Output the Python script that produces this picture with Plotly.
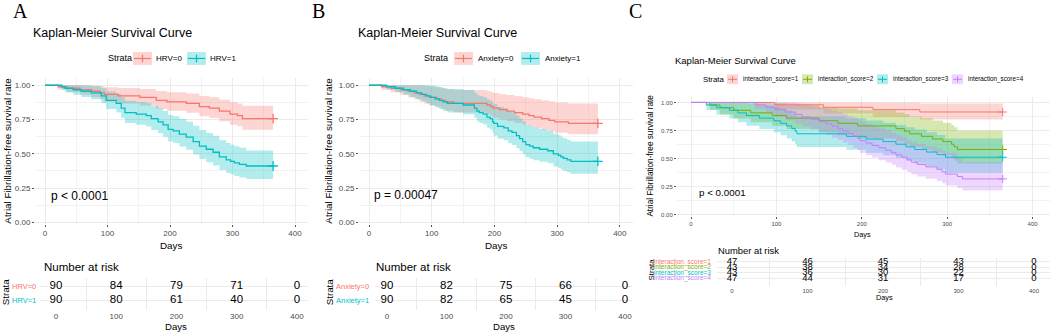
import plotly.graph_objects as go

W, H = 1052, 336
FONT = "Liberation Sans, Arial, sans-serif"
SERIF = "Liberation Serif, Times New Roman, serif"

RED, CYAN, GREEN, PURPLE = "#F8766D", "#00BFC4", "#7CAE00", "#C77CFF"

# ---------------- data: panel A (HRV) ----------------
A0_t = [0, 21, 35, 56, 74, 88, 95, 117, 152, 178, 195, 226, 247, 263, 279, 296, 308, 316, 365]
A0_s = [1, .989, .978, .967, .956, .944, .933, .922, .911, .889, .878, .867, .844, .833, .811, .789, .778, .756, .756]
A0_hi = [1, 1, 1, 1, .999, .993, .986, .980, .973, .958, .949, .940, .922, .913, .895, .877, .867, .850, .850]
A0_lo = [1, .967, .948, .931, .915, .898, .882, .867, .853, .827, .813, .800, .774, .761, .737, .712, .700, .675, .675]

A1_t = [0, 27, 32, 45, 58, 74, 90, 98, 114, 122, 128, 146, 162, 170, 181, 189, 197, 205, 215, 226, 237, 247, 258, 269, 279, 290, 297, 303, 311, 322, 365]
A1_s = [1, .989, .978, .967, .956, .944, .922, .889, .867, .833, .800, .789, .778, .756, .733, .711, .678, .667, .644, .622, .589, .556, .533, .511, .478, .456, .444, .433, .422, .411, .411]
A1_hi = [1, 1, 1, 1, .999, .993, .978, .955, .938, .912, .886, .877, .868, .850, .831, .812, .783, .774, .754, .734, .704, .673, .652, .631, .599, .578, .566, .555, .544, .523, .523]
A1_lo = [1, .967, .948, .931, .915, .898, .868, .827, .801, .762, .724, .711, .699, .674, .649, .625, .590, .578, .553, .530, .495, .461, .438, .415, .381, .359, .348, .337, .327, .316, .316]

# ---------------- data: panel B (Anxiety) ----------------
B0_t = [0, 20, 35, 50, 62, 72, 80, 88, 96, 108, 115, 122, 135, 188, 194, 198, 208, 220, 232, 245, 255, 263, 275, 287, 296, 318, 365]
B0_s = [1, .989, .978, .967, .956, .944, .933, .922, .911, .900, .889, .878, .867, .856, .844, .833, .822, .811, .800, .789, .778, .767, .756, .744, .733, .722, .722]
B0_hi = [1, 1, 1, 1, 1, 1, 1, .995, .990, .985, .978, .972, .965, .958, .950, .943, .935, .928, .920, .912, .905, .897, .890, .882, .874, .866, .866]
B0_lo = [1, .967, .948, .930, .913, .897, .882, .867, .853, .840, .827, .814, .801, .788, .775, .762, .750, .738, .725, .713, .701, .690, .678, .666, .654, .642, .642]

B1_t = [0, 28, 42, 55, 66, 76, 84, 92, 98, 105, 112, 118, 125, 150, 168, 172, 176, 182, 188, 193, 197, 199, 205, 215, 222, 228, 235, 240, 245, 250, 256, 262, 272, 285, 294, 302, 306, 310, 316, 322, 365]
B1_s = [1, .989, .978, .967, .956, .944, .933, .922, .911, .900, .889, .878, .867, .856, .833, .811, .800, .789, .767, .756, .733, .722, .700, .689, .667, .656, .633, .611, .589, .567, .556, .544, .533, .522, .500, .489, .478, .467, .456, .444, .444]
B1_hi = [1, 1, 1, 1, 1, 1, 1, 1, .998, .992, .985, .978, .972, .965, .945, .930, .922, .913, .897, .888, .871, .862, .842, .832, .811, .801, .779, .758, .736, .714, .703, .691, .680, .668, .646, .635, .624, .613, .601, .590, .590]
B1_lo = [1, .967, .948, .930, .913, .897, .882, .867, .853, .840, .827, .814, .801, .788, .762, .738, .725, .713, .690, .678, .654, .632, .610, .599, .576, .564, .541, .518, .496, .474, .463, .452, .441, .430, .408, .397, .386, .375, .364, .354, .354]

# ---------------- data: panel C (interaction score) ----------------
C1_t = [0, 98, 155, 213, 268, 365]
C1_s = [1, .979, .957, .936, .915, .915]
C1_hi = [1, 1, 1, .998, .99, .99]
C1_lo = [1, .938, .901, .870, .848, .848]

C2_t = [0, 22, 34, 50, 70, 95, 112, 150, 172, 195, 240, 250, 256, 270, 283, 295, 305, 308, 312, 365]
C2_s = [1, .977, .953, .930, .907, .884, .860, .837, .814, .791, .767, .744, .721, .698, .674, .651, .628, .605, .581, .581]
C2_hi = [1, 1, 1, 1, 1, .99, .975, .96, .945, .93, .91, .895, .875, .86, .84, .82, .80, .78, .75, .75]
C2_lo = [1, .933, .892, .857, .823, .793, .763, .735, .707, .680, .653, .628, .603, .578, .553, .529, .505, .481, .456, .456]

C3_t = [0, 18, 30, 45, 55, 65, 80, 97, 105, 112, 118, 122, 124, 182, 205, 225, 240, 252, 262, 276, 288, 298, 365]
C3_s = [1, .977, .953, .930, .907, .884, .860, .837, .814, .791, .767, .744, .721, .698, .674, .651, .628, .605, .581, .558, .535, .512, .512]
C3_hi = [1, 1, 1, 1, 1, .99, .975, .96, .945, .93, .91, .895, .875, .86, .84, .82, .80, .78, .76, .735, .71, .68, .68]
C3_lo = [1, .933, .892, .857, .823, .793, .763, .735, .707, .680, .653, .628, .603, .578, .553, .529, .505, .481, .456, .432, .408, .375, .375]

C4_t = [0, 75, 88, 98, 110, 122, 130, 140, 150, 158, 165, 172, 178, 184, 190, 195, 198, 205, 212, 220, 228, 235, 240, 247, 253, 258, 265, 275, 288, 294, 298, 312, 318, 365]
C4_s = [1, .979, .957, .936, .915, .894, .872, .851, .830, .809, .787, .766, .745, .723, .702, .681, .660, .638, .617, .596, .574, .553, .532, .511, .489, .468, .447, .426, .404, .383, .362, .340, .319, .319]
C4_hi = [1, 1, 1, 1, 1, .99, .98, .965, .95, .94, .925, .91, .895, .88, .865, .845, .83, .81, .79, .77, .75, .73, .71, .69, .67, .65, .63, .61, .59, .57, .55, .51, .47, .47]
C4_lo = [1, .94, .90, .87, .84, .81, .785, .76, .735, .71, .685, .665, .64, .62, .595, .575, .55, .53, .51, .485, .465, .445, .42, .40, .38, .36, .34, .32, .30, .28, .26, .235, .215, .215]

# ---------------- data: risk tables ----------------
risk_times = [0, 100, 200, 300, 400]
risk_HRV0 = [90, 84, 79, 71, 0]
risk_HRV1 = [90, 80, 61, 40, 0]
risk_Anx0 = [90, 82, 75, 66, 0]
risk_Anx1 = [90, 82, 65, 45, 0]
risk_C1 = [47, 46, 45, 43, 0]
risk_C2 = [43, 38, 34, 28, 0]
risk_C3 = [43, 36, 30, 22, 0]
risk_C4 = [47, 44, 31, 17, 0]

labels_A = ["HRV=0", "HRV=1"]
labels_B = ["Anxiety=0", "Anxiety=1"]
labels_C = ["interaction_score=1", "interaction_score=2", "interaction_score=3", "interaction_score=4"]
y_ticks = [0, 0.25, 0.5, 0.75, 1.0]
y_ticktext = ["0.00", "0.25", "0.50", "0.75", "1.00"]
x_ticks = [0, 100, 200, 300, 400]


def rgba(h, a):
    h = h.lstrip("#")
    return "rgba(%d,%d,%d,%s)" % (int(h[0:2], 16), int(h[2:4], 16), int(h[4:6], 16), a)


def pxx(x):
    return x / W


def pxy(y):
    return 1 - y / H


fig = go.Figure()


def add_band(ax, t, hi, lo, color):
    xa, ya = ax
    fig.add_trace(go.Scatter(x=t, y=lo, xaxis=xa, yaxis=ya, mode="lines",
                             line=dict(width=0, shape="hv"), hoverinfo="skip", showlegend=False))
    fig.add_trace(go.Scatter(x=t, y=hi, xaxis=xa, yaxis=ya, mode="lines",
                             line=dict(width=0, shape="hv"), fill="tonexty",
                             fillcolor=rgba(color, 0.3), hoverinfo="skip", showlegend=False))


def add_line(ax, t, s, color, lw, msize):
    xa, ya = ax
    fig.add_trace(go.Scatter(x=t, y=s, xaxis=xa, yaxis=ya, mode="lines",
                             line=dict(width=lw, shape="hv", color=color), hoverinfo="skip", showlegend=False))
    fig.add_trace(go.Scatter(x=[t[-1]], y=[s[-1]], xaxis=xa, yaxis=ya, mode="markers",
                             marker=dict(symbol="cross-thin", size=msize, line=dict(width=lw, color=color)),
                             hoverinfo="skip", showlegend=False))


axA, axB, axC = ("x", "y"), ("x2", "y2"), ("x3", "y3")
add_band(axA, A0_t, A0_hi, A0_lo, RED)
add_band(axA, A1_t, A1_hi, A1_lo, CYAN)
add_line(axA, A0_t, A0_s, RED, 1.3, 7)
add_line(axA, A1_t, A1_s, CYAN, 1.3, 7)

add_band(axB, B0_t, B0_hi, B0_lo, RED)
add_band(axB, B1_t, B1_hi, B1_lo, CYAN)
add_line(axB, B0_t, B0_s, RED, 1.3, 7)
add_line(axB, B1_t, B1_s, CYAN, 1.3, 7)

add_band(axC, C1_t, C1_hi, C1_lo, RED)
add_band(axC, C2_t, C2_hi, C2_lo, GREEN)
add_band(axC, C3_t, C3_hi, C3_lo, CYAN)
add_band(axC, C4_t, C4_hi, C4_lo, PURPLE)
add_line(axC, C1_t, C1_s, RED, 1.0, 6)
add_line(axC, C2_t, C2_s, GREEN, 1.0, 6)
add_line(axC, C3_t, C3_s, CYAN, 1.0, 6)
add_line(axC, C4_t, C4_s, PURPLE, 1.0, 6)


def add_risk(ax, rows, size):
    xa, ya = ax
    for yv, vals in rows:
        fig.add_trace(go.Scatter(x=risk_times, y=[yv] * len(vals), xaxis=xa, yaxis=ya, mode="text",
                                 text=[str(v) for v in vals], textposition="middle center",
                                 textfont=dict(size=size, color="black", family=FONT),
                                 hoverinfo="skip", showlegend=False, cliponaxis=False))


add_risk(("x4", "y4"), [(2, risk_HRV0), (1, risk_HRV1)], 11.5)
add_risk(("x5", "y5"), [(2, risk_Anx0), (1, risk_Anx1)], 11.5)
add_risk(("x6", "y6"), [(4, risk_C1), (3, risk_C2), (2, risk_C3), (1, risk_C4)], 9.5)

GRID = "#EBEBEB"
GRIDMIN = "#F2F2F2"
TICKC = "#4D4D4D"
layout = dict(width=W, height=H, margin=dict(l=0, r=0, t=0, b=0),
              paper_bgcolor="white", plot_bgcolor="white", showlegend=False)


def main_axes(n, x0, x1, y0, y1, xr, yr, fs):
    sx = "" if n == 1 else str(n)
    layout["xaxis" + sx] = dict(domain=[pxx(x0), pxx(x1)], range=xr, anchor="y" + sx,
                                tickvals=x_ticks, ticks="outside", ticklen=2, tickcolor="#555",
                                tickfont=dict(size=fs, color=TICKC, family=FONT),
                                showgrid=True, gridcolor=GRID, gridwidth=1, zeroline=False, showline=False,
                                minor=dict(tickvals=[50, 150, 250, 350], showgrid=True, gridcolor=GRIDMIN, gridwidth=0.6),
                                fixedrange=True)
    layout["yaxis" + sx] = dict(domain=[pxy(y1), pxy(y0)], range=yr, anchor="x" + sx,
                                tickvals=y_ticks, ticktext=y_ticktext, ticks="outside", ticklen=2, tickcolor="#555",
                                tickfont=dict(size=fs, color=TICKC, family=FONT),
                                showgrid=True, gridcolor=GRID, gridwidth=1, zeroline=False, showline=False,
                                minor=dict(tickvals=[0.125, 0.375, 0.625, 0.875], showgrid=True, gridcolor=GRIDMIN, gridwidth=0.6),
                                fixedrange=True)


def table_axes(n, x0, x1, y0, y1, xr, yr, nrows, fs):
    sx = str(n)
    layout["xaxis" + sx] = dict(domain=[pxx(x0), pxx(x1)], range=xr, anchor="y" + sx,
                                tickvals=x_ticks, ticks="", tickfont=dict(size=fs, color=TICKC, family=FONT),
                                showgrid=False, zeroline=False, showline=False,
                                minor=dict(tickvals=[50, 150, 250, 350], showgrid=True, gridcolor=GRID, gridwidth=0.8),
                                fixedrange=True)
    layout["yaxis" + sx] = dict(domain=[pxy(y1), pxy(y0)], range=yr, anchor="x" + sx,
                                tickvals=list(range(1, nrows + 1)), showticklabels=False, ticks="",
                                showgrid=True, gridcolor=GRID, gridwidth=1, zeroline=False, showline=False,
                                fixedrange=True)


main_axes(1, 35, 308, 79.1, 225.7, [-16, 420.8], [-0.01, 1.05], 8)
main_axes(2, 359, 633, 79.1, 225.7, [-16, 421], [-0.01, 1.05], 8)
main_axes(3, 677, 1050, 97.7, 217.8, [-16.4, 420.4], [-0.01, 1.05], 6)
table_axes(4, 40, 308, 280.6, 313.2, [-26.6, 418.3], [0.271, 2.6], 2, 8)
table_axes(5, 375, 632, 280.6, 313.2, [-20.2, 411.8], [0.271, 2.6], 2, 8)
table_axes(6, 717, 1050, 260.6, 288.4, [-19.9, 421.2], [-0.305, 4.6], 4, 6)

anns = []
shapes = []


def ann(text, x, y, size, color="black", xanchor="left", angle=0, family=FONT):
    anns.append(dict(text=text, x=pxx(x), y=pxy(y), xref="paper", yref="paper", xanchor=xanchor,
                     yanchor="middle", showarrow=False, textangle=angle,
                     font=dict(size=size, color=color, family=family)))


def key(x0, x1, yc, hgt, color, lw=1.2):
    shapes.append(dict(type="rect", xref="paper", yref="paper", x0=pxx(x0), x1=pxx(x1),
                       y0=pxy(yc + hgt / 2), y1=pxy(yc - hgt / 2), fillcolor=rgba(color, 0.3), line=dict(width=0)))
    shapes.append(dict(type="line", xref="paper", yref="paper", x0=pxx(x0 + 1), x1=pxx(x1 - 1),
                       y0=pxy(yc), y1=pxy(yc), line=dict(color=color, width=lw)))
    xm = (x0 + x1) / 2
    shapes.append(dict(type="line", xref="paper", yref="paper", x0=pxx(xm), x1=pxx(xm),
                       y0=pxy(yc - hgt * 0.3), y1=pxy(yc + hgt * 0.3), line=dict(color=color, width=lw)))


# panel letters
ann("A", 20, 11, 20, xanchor="center", family=SERIF)
ann("B", 318, 11, 20, xanchor="center", family=SERIF)
ann("C", 635, 11, 20, xanchor="center", family=SERIF)

# titles
ann("Kaplan-Meier Survival Curve", 31, 33, 12.5)
ann("Kaplan-Meier Survival Curve", 356, 33, 12.5)
ann("Kaplan-Meier Survival Curve", 673, 61, 9.5)

# legends
LEG_Y = 59
ann("Strata", 106, LEG_Y, 9)
key(133, 152, LEG_Y, 13, RED)
ann(labels_A[0], 154, LEG_Y, 8)
key(187, 206, LEG_Y, 13, CYAN)
ann(labels_A[1], 208, LEG_Y, 8)

ann("Strata", 422, LEG_Y, 9)
key(454, 473, LEG_Y, 13, RED)
ann(labels_B[0], 476, LEG_Y, 8)
key(521, 540, LEG_Y, 13, CYAN)
ann(labels_B[1], 543, LEG_Y, 8)

LC = 80
ann("Strata", 701, LC, 7.8)
for kx, lx, col, lab in [(727, 741, RED, labels_C[0]), (802, 816, GREEN, labels_C[1]),
                         (877, 891, CYAN, labels_C[2]), (952, 966, PURPLE, labels_C[3])]:
    key(kx, kx + 11, LC, 10, col, 1.0)
    ann(lab, lx, LC, 6.3)

# p-values
ann("p &lt; 0.0001", 49, 198, 12)
ann("p = 0.00047", 372, 197, 12)
ann("p &lt; 0.0001", 697, 194, 9.8)

# axis titles
YT = "Atrial Fibrillation-free survival rate"
ann(YT, 8, 152, 9.8, xanchor="center", angle=-90)
ann(YT, 329, 152, 9.8, xanchor="center", angle=-90)
ann(YT, 651, 157, 8.2, xanchor="center", angle=-90)
ann("Days", 171, 248, 9.8, xanchor="center")
ann("Days", 496, 248, 9.8, xanchor="center")
ann("Days", 862, 237, 7.3, xanchor="center")

# risk tables
ann("Number at risk", 42, 269, 11.5)
ann("Number at risk", 374, 269, 11.5)
ann("Number at risk", 716, 253, 9.4)
ann("Days", 176, 329, 9.6, xanchor="center")
ann("Days", 504, 329, 9.6, xanchor="center")
ann("Days", 884, 300.5, 7.3, xanchor="center")
ann("Strata", 5, 295, 9.8, xanchor="center", angle=-90)
ann("Strata", 329, 295, 9.8, xanchor="center", angle=-90)
ann("Strata", 652, 272, 8, xanchor="center", angle=-90)
ann(labels_A[0], 38, 289, 7.5, color=RED, xanchor="right")
ann(labels_A[1], 38, 303, 7.5, color=CYAN, xanchor="right")
ann(labels_B[0], 371, 289, 7.5, color=RED, xanchor="right")
ann(labels_B[1], 371, 303, 7.5, color=CYAN, xanchor="right")
for yy, col, lab in [(264, RED, labels_C[0]), (269.6, GREEN, labels_C[1]),
                     (275.3, CYAN, labels_C[2]), (281, PURPLE, labels_C[3])]:
    ann(lab, 713, yy, 6.5, color=col, xanchor="right")

layout["annotations"] = anns
layout["shapes"] = shapes
fig.update_layout(**layout)
fig.write_html("out.html", config={"displayModeBar": False},
               post_script="document.body.style.margin='0';document.body.style.padding='0';")
